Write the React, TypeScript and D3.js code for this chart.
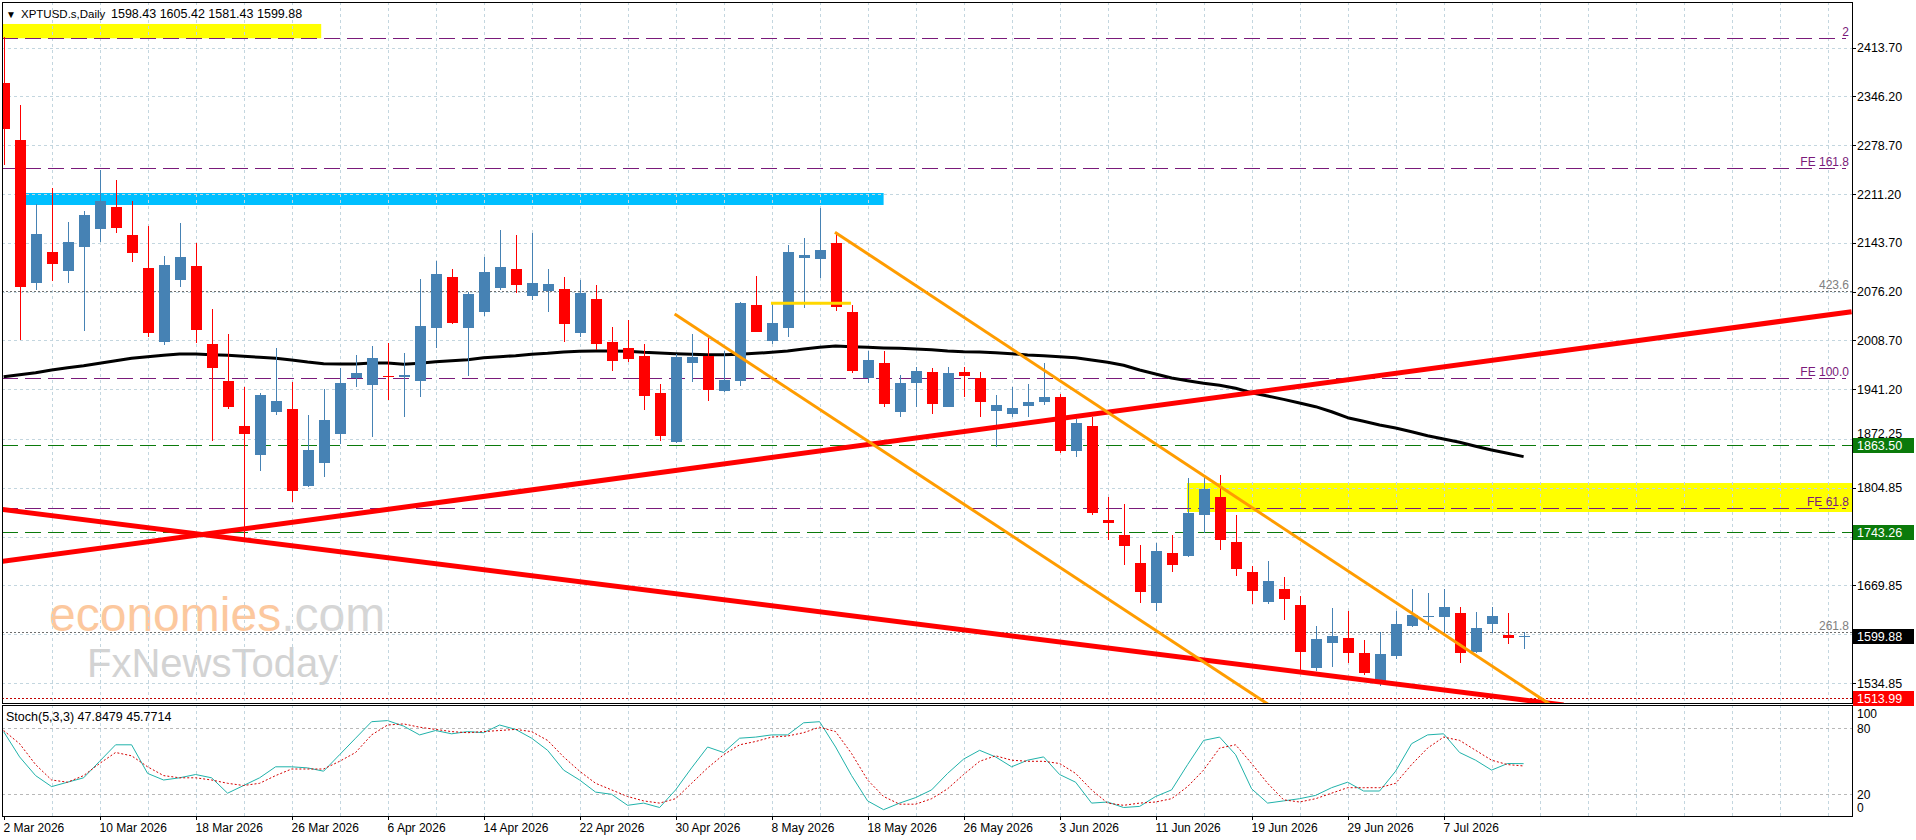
import React, { useEffect, useRef } from 'react';
import * as d3 from 'd3';

// Daily XPTUSD bars, bar 0 = 2 Mar 2026 (one bar per trading day)
const opens = [
  2364.9, 2286.0, 2087.8, 2130.7, 2105.2, 2137.6, 2163.3, 2193.8, 2154.6, 2108.5,
  2007.0, 2092.4, 2111.7, 2003.8, 1953.1, 1890.4, 1850.3, 1910.1, 1913.9, 1807.4,
  1839.6, 1879.3, 1956.4, 1947.1, 1960.0, 1957.7, 1953.1, 2025.5, 2096.1, 2025.5,
  2048.5, 2080.9, 2107.2, 2070.2, 2077.6, 2079.5, 2018.6, 2065.7, 2006.2, 1997.9,
  1987.2, 1935.6, 1868.7, 1977.9, 1987.2, 1939.2, 1953.1, 2057.8, 2008.4, 2026.4,
  2122.4, 2121.4, 2143.9, 2048.5, 1956.4, 1977.9, 1910.1, 1949.4, 1964.7, 1917.1,
  1964.7, 1956.4, 1911.6, 1906.6, 1918.5, 1923.2, 1930.1, 1856.2, 1890.4, 1760.4,
  1739.6, 1700.4, 1645.9, 1714.3, 1710.6, 1767.3, 1791.8, 1730.4, 1688.0, 1647.3,
  1664.9, 1642.8, 1555.2, 1589.8, 1596.7, 1575.9, 1536.7, 1572.7, 1614.1, 1625.8,
  1626.6, 1631.3, 1578.2, 1616.0, 1601.8, 1598.43,
];
const highs = [
  2428.5, 2334.4, 2197.2, 2219.2, 2173.0, 2188.2, 2244.5, 2230.7, 2202.1, 2167.1,
  2125.6, 2171.6, 2143.1, 2052.2, 2017.7, 1944.8, 1936.0, 1997.9, 1951.7, 1905.6,
  1941.2, 1970.2, 1988.6, 2001.0, 2005.0, 1991.8, 2093.3, 2119.0, 2107.2, 2075.7,
  2124.2, 2161.5, 2154.6, 2157.0, 2107.2, 2096.9, 2092.4, 2085.4, 2026.9, 2037.0,
  2003.8, 1948.5, 1990.0, 2017.2, 2011.7, 1994.6, 2062.0, 2097.9, 2062.3, 2140.8,
  2150.5, 2191.5, 2158.5, 2057.8, 1994.6, 1994.6, 1960.9, 1971.6, 1970.2, 1972.4,
  1971.6, 1965.5, 1933.3, 1944.8, 1948.5, 1977.1, 1934.7, 1899.7, 1903.3, 1791.8,
  1782.5, 1725.8, 1729.0, 1739.6, 1818.0, 1819.9, 1822.6, 1767.3, 1696.7, 1704.1,
  1681.9, 1655.2, 1613.7, 1638.2, 1634.5, 1594.4, 1605.0, 1635.0, 1664.9, 1659.0,
  1664.5, 1640.4, 1632.7, 1639.6, 1631.3, 1605.42,
];
const lows = [
  2251.0, 2009.4, 2078.5, 2091.4, 2088.6, 2022.2, 2145.0, 2156.9, 2117.7, 2013.9,
  2002.5, 2082.0, 2005.6, 1870.0, 1914.3, 1735.0, 1828.6, 1905.3, 1785.7, 1805.6,
  1819.4, 1865.5, 1943.9, 1875.6, 1927.0, 1903.3, 1930.1, 1997.9, 2032.0, 1959.5,
  2042.5, 2078.5, 2073.9, 2064.7, 2048.5, 2007.0, 2013.9, 1995.5, 1966.9, 1979.3,
  1912.5, 1870.0, 1866.9, 1951.7, 1925.4, 1937.8, 1946.1, 2020.0, 2003.8, 2013.9,
  2053.2, 2094.7, 2049.9, 1963.3, 1949.4, 1917.1, 1903.3, 1916.2, 1907.0, 1916.6,
  1930.9, 1902.4, 1861.8, 1902.4, 1903.3, 1919.4, 1852.6, 1847.1, 1767.3, 1732.7,
  1698.1, 1645.1, 1634.9, 1688.9, 1709.0, 1742.2, 1718.9, 1683.0, 1644.1, 1644.1,
  1622.0, 1549.1, 1551.9, 1556.6, 1562.1, 1545.9, 1530.8, 1567.7, 1612.0, 1608.2,
  1599.9, 1562.1, 1577.0, 1603.7, 1588.4, 1581.43,
];
const closes = [
  2301.2, 2083.1, 2156.0, 2114.5, 2145.4, 2182.3, 2202.1, 2164.7, 2130.1, 2019.5,
  2113.1, 2124.6, 2023.2, 1971.0, 1917.1, 1878.9, 1933.3, 1924.9, 1800.9, 1857.2,
  1898.7, 1949.5, 1964.1, 1984.0, 1958.5, 1960.9, 2028.7, 2100.7, 2032.5, 2072.9,
  2103.0, 2109.9, 2085.4, 2087.8, 2086.8, 2031.5, 2073.9, 2003.8, 1980.7, 1983.1,
  1932.3, 1877.0, 1986.3, 1986.3, 1940.2, 1954.0, 2060.9, 2020.8, 2032.5, 2131.5,
  2126.9, 2133.8, 2055.4, 1966.9, 1981.7, 1920.8, 1950.3, 1966.9, 1920.4, 1963.3,
  1960.0, 1924.0, 1919.4, 1914.9, 1924.0, 1930.9, 1856.2, 1894.1, 1770.5, 1756.2,
  1724.8, 1661.2, 1717.5, 1698.1, 1770.5, 1803.2, 1732.7, 1692.3, 1662.6, 1675.9,
  1650.7, 1578.2, 1595.3, 1599.9, 1575.9, 1548.3, 1575.0, 1616.6, 1628.9, 1627.6,
  1640.4, 1576.9, 1611.4, 1627.5, 1597.2, 1599.88,
];

// moving average (black line)
const maValues = [
  1958.6, 1961.4, 1964.1, 1967.9, 1971.0, 1973.8, 1977.1, 1980.7, 1984.0, 1986.3,
  1988.2, 1990.0, 1990.0, 1989.0, 1988.2, 1986.8, 1985.4, 1984.0, 1981.7, 1978.9,
  1976.6, 1976.2, 1976.2, 1977.5, 1977.5, 1975.7, 1977.1, 1979.4, 1980.7, 1982.1,
  1984.9, 1986.3, 1987.7, 1989.6, 1990.9, 1992.8, 1993.7, 1994.1, 1994.1, 1993.7,
  1992.3, 1991.4, 1990.4, 1989.6, 1989.0, 1989.0, 1989.6, 1990.9, 1992.3, 1994.1,
  1996.9, 1999.2, 2001.0, 2000.1, 1999.2, 1998.3, 1997.8, 1996.9, 1995.9, 1994.1,
  1993.2, 1992.8, 1991.8, 1990.4, 1988.6, 1987.7, 1986.3, 1984.9, 1981.7, 1978.5,
  1974.4, 1967.9, 1962.3, 1956.8, 1953.1, 1949.5, 1946.7, 1942.6, 1936.5, 1931.9,
  1927.2, 1922.2, 1917.1, 1910.1, 1901.9, 1896.9, 1891.8, 1887.6, 1882.5, 1877.0,
  1872.4, 1867.8, 1862.3, 1857.2, 1852.6, 1848.0,
];

// Stoch(5,3,3)
const stochMain = [
  77, 54, 37, 27, 31, 35, 50, 65, 65, 39,
  33, 35, 38, 35, 21, 28, 35, 45, 45, 44,
  41, 56, 71, 86, 87, 82, 74, 78, 75, 77,
  76, 83, 79, 71, 60, 42, 33, 22, 20, 10,
  12, 8, 24, 44, 63, 58, 71, 72, 74, 74,
  85, 86, 63, 37, 14, 6, 12, 17, 24, 39,
  52, 60, 54, 45, 51, 54, 38, 31, 12, 13,
  8, 9, 18, 24, 47, 69, 72, 56, 25, 12,
  14, 16, 19, 26, 31, 23, 23, 41, 66, 74,
  75, 58, 51, 42, 48, 47.85,
];
const stochSignal = [
  78, 66, 47, 33, 31, 37, 48, 58, 55, 45,
  37, 35, 35, 33, 30, 28, 30, 37, 43, 43,
  43, 50, 58, 74, 83, 84, 81, 79, 77, 76,
  77, 78, 79, 77, 69, 54, 41, 30, 24, 18,
  14, 12, 16, 30, 44, 56, 65, 68, 72, 73,
  76, 81, 77, 57, 33, 18, 11, 11, 16, 25,
  38, 50, 55, 51, 50, 50, 48, 39, 24, 12,
  10, 12, 13, 16, 27, 42, 62, 65, 48, 30,
  15, 13, 16, 21, 26, 26, 26, 30, 47, 62,
  72, 69, 60, 51, 47, 45.77,
];

const priceTicks = [
  '2413.70', '2346.20', '2278.70', '2211.20', '2143.70', '2076.20', '2008.70',
  '1941.20', '1872.25', '1804.85', '1737.35', '1669.85', '1602.35', '1534.85',
];
const stochTicks = [100, 80, 20, 0];
const stochLevels = [80, 20];
const dateLabelBars = [0, 6, 12, 18, 24, 30, 36, 42, 48, 54, 60, 66, 72, 78, 84, 90];
const dateLabels = [
  '2 Mar 2026', '10 Mar 2026', '18 Mar 2026', '26 Mar 2026', '6 Apr 2026', '14 Apr 2026',
  '22 Apr 2026', '30 Apr 2026', '8 May 2026', '18 May 2026', '26 May 2026', '3 Jun 2026',
  '11 Jun 2026', '19 Jun 2026', '29 Jun 2026', '7 Jul 2026',
];

// drawn objects (bar index, price)
const fiboPrices = [2426.7, 2246.9, 1956.8, 1776.5];
const fiboLabels = ['2', 'FE 161.8', 'FE 100.0', 'FE 61.8'];
const expansionPrices = [2077.6, 1605.0];
const expansionLabels = ['423.6', '261.8'];
const supportPrices = [1863.5, 1743.26];
const lowLevel = 1513.99;
const lastPrice = 1599.88;
const yellowZones = [
  [-0.2, 19.85, 2446.5, 2426.7],
  [73.96, 116, 1811.5, 1771.4],
];
const blueZone = [1.35, 55, 2212.7, 2196.1];
const redTrendlines = [
  [[-0.2, 1702.7], [115.5, 2048.5]],
  [[-0.2, 1775.2], [97.5, 1504.5]],
];
const orangeTrendlines = [
  [[51.96, 2158.5], [96.6, 1506.0]],
  [[41.94, 2045.3], [79.2, 1503.0]],
];
const goldSegment = [[47.96, 2060.1], [52.96, 2060.1]];

const App = () => {
  const svgRef = useRef<SVGSVGElement | null>(null);

  useEffect(() => {
    const svg = d3.select(svgRef.current);
    svg.selectAll('*').remove();

    const font = "'Liberation Sans', Arial, sans-serif";
    const left = 2, right = 1852;
    const mainTop = 2, mainBottom = 703;
    const stochTop = 705, stochBottom = 816;
    const bull = '#4682b4', bear = '#ff0000';
    const gridColor = '#c3d6df';

    const x = d3.scaleLinear().domain([0, 95]).range([3.6, 1523.6]);
    const y = d3.scaleLinear().domain([1507.2, 2476.9]).range([mainBottom, mainTop]);
    const ys = d3.scaleLinear().domain([0, 100]).range([816.3, 706.3]);
    const px = (v: number) => Math.round(v) + 0.5;

    svg.append('rect').attr('width', 1916).attr('height', 840).attr('fill', '#fff');

    const defs = svg.append('defs');
    defs.append('clipPath').attr('id', 'main-clip').append('rect')
      .attr('x', left + 1).attr('y', mainTop + 1)
      .attr('width', right - left - 1).attr('height', mainBottom - mainTop - 1);
    defs.append('clipPath').attr('id', 'stoch-clip').append('rect')
      .attr('x', left + 1).attr('y', stochTop + 1)
      .attr('width', right - left - 1).attr('height', stochBottom - stochTop - 1);

    const main = svg.append('g').attr('clip-path', 'url(#main-clip)');
    const sub = svg.append('g').attr('clip-path', 'url(#stoch-clip)');

    // watermark
    const wm = main.append('text').attr('x', 49).attr('y', 631)
      .attr('font-family', font).attr('font-size', 48);
    wm.append('tspan').attr('fill', '#fcc89e').text('economies');
    wm.append('tspan').attr('fill', '#d6d6d6').text('.com');
    main.append('text').attr('x', 87).attr('y', 677)
      .attr('font-family', font).attr('font-size', 40).attr('fill', '#d3d3d3')
      .text('FxNewsToday');

    // zones
    yellowZones.forEach(([b0, b1, p0, p1]) => {
      main.append('rect')
        .attr('x', x(b0)).attr('y', y(p0))
        .attr('width', x(b1) - x(b0)).attr('height', y(p1) - y(p0))
        .attr('fill', '#ffff00');
    });
    main.append('rect')
      .attr('x', x(blueZone[0])).attr('y', y(blueZone[2]))
      .attr('width', x(blueZone[1]) - x(blueZone[0]))
      .attr('height', y(blueZone[3]) - y(blueZone[2]))
      .attr('fill', '#00bfff');

    // grid
    const gridBars = d3.range(3, 115, 3);
    main.selectAll('.vgrid').data(gridBars).enter().append('line')
      .attr('x1', (d) => px(x(d))).attr('x2', (d) => px(x(d)))
      .attr('y1', mainTop).attr('y2', mainBottom)
      .attr('stroke', gridColor).attr('stroke-dasharray', '3,3')
      .attr('shape-rendering', 'crispEdges');
    main.selectAll('.hgrid').data(priceTicks).enter().append('line')
      .attr('x1', left).attr('x2', right)
      .attr('y1', (d) => px(y(+d))).attr('y2', (d) => px(y(+d)))
      .attr('stroke', gridColor).attr('stroke-dasharray', '3,3')
      .attr('shape-rendering', 'crispEdges');
    sub.selectAll('.vgrid').data(gridBars).enter().append('line')
      .attr('x1', (d) => px(x(d))).attr('x2', (d) => px(x(d)))
      .attr('y1', stochTop).attr('y2', stochBottom)
      .attr('stroke', gridColor).attr('stroke-dasharray', '3,3')
      .attr('shape-rendering', 'crispEdges');
    sub.selectAll('.lvl').data(stochLevels).enter().append('line')
      .attr('x1', left).attr('x2', right)
      .attr('y1', (d) => px(ys(d))).attr('y2', (d) => px(ys(d)))
      .attr('stroke', '#b8b8b8').attr('stroke-dasharray', '3,3')
      .attr('shape-rendering', 'crispEdges');

    // horizontal levels
    const hline = (price: number, color: string, dash: string, x2 = right) =>
      main.append('line')
        .attr('x1', left).attr('x2', x2)
        .attr('y1', px(y(price))).attr('y2', px(y(price)))
        .attr('stroke', color).attr('stroke-dasharray', dash)
        .attr('shape-rendering', 'crispEdges');
    fiboPrices.forEach((p) => hline(p, '#7a1a7a', '16,7', 1846));
    supportPrices.forEach((p) => hline(p, '#0b7a0b', '16,7'));
    expansionPrices.forEach((p) => hline(p, '#6e6e6e', '2,2'));
    hline(lowLevel, '#c00000', '2,2');

    // moving average
    const line = d3.line<number>().x((_, i) => x(i)).y((d) => y(d));
    main.append('path').datum(maValues)
      .attr('d', line).attr('fill', 'none')
      .attr('stroke', '#000').attr('stroke-width', 3)
      .attr('stroke-linejoin', 'round');

    // candles
    const bars = opens.map((o, i) => ({ i, o, h: highs[i], l: lows[i], c: closes[i] }));
    const candle = main.append('g').selectAll('g').data(bars).enter().append('g');
    candle.append('line')
      .attr('x1', (d) => px(x(d.i))).attr('x2', (d) => px(x(d.i)))
      .attr('y1', (d) => Math.round(y(d.h))).attr('y2', (d) => Math.round(y(d.l)))
      .attr('stroke', (d) => (d.c >= d.o ? bull : bear))
      .attr('shape-rendering', 'crispEdges');
    candle.append('rect')
      .attr('x', (d) => Math.round(x(d.i)) - 5)
      .attr('width', 11)
      .attr('y', (d) => Math.round(y(Math.max(d.o, d.c))))
      .attr('height', (d) => Math.max(1, Math.round(y(Math.min(d.o, d.c))) - Math.round(y(Math.max(d.o, d.c)))))
      .attr('fill', (d) => (d.c >= d.o ? bull : bear))
      .attr('shape-rendering', 'crispEdges');

    // trend lines
    const seg = d3.line<number[]>().x((d) => x(d[0])).y((d) => y(d[1]));
    redTrendlines.forEach((pts) => {
      main.append('path').attr('d', seg(pts)).attr('fill', 'none')
        .attr('stroke', '#ff0000').attr('stroke-width', 5);
    });
    orangeTrendlines.forEach((pts) => {
      main.append('path').attr('d', seg(pts)).attr('fill', 'none')
        .attr('stroke', '#ff9c00').attr('stroke-width', 3);
    });
    main.append('path').attr('d', seg(goldSegment)).attr('fill', 'none')
      .attr('stroke', '#ffd700').attr('stroke-width', 3);

    // level labels
    fiboPrices.forEach((p, k) => {
      main.append('text').attr('x', 1849).attr('y', y(p) - 2)
        .attr('text-anchor', 'end').attr('font-family', font).attr('font-size', 12)
        .attr('fill', '#7a1a7a').text(fiboLabels[k]);
    });
    expansionPrices.forEach((p, k) => {
      main.append('text').attr('x', 1849).attr('y', y(p) - 2)
        .attr('text-anchor', 'end').attr('font-family', font).attr('font-size', 12)
        .attr('fill', '#808080').text(expansionLabels[k]);
    });

    // stochastic
    const sline = d3.line<number>().x((_, i) => x(i)).y((d) => ys(d));
    sub.append('path').datum(stochMain).attr('d', sline).attr('fill', 'none')
      .attr('stroke', '#20b2aa').attr('stroke-width', 1);
    sub.append('path').datum(stochSignal).attr('d', sline).attr('fill', 'none')
      .attr('stroke', '#d40000').attr('stroke-width', 1).attr('stroke-dasharray', '2,2');

    // frames
    const frame = (x0: number, y0: number, x1: number, y1: number) =>
      svg.append('rect').attr('x', x0 + 0.5).attr('y', y0 + 0.5)
        .attr('width', x1 - x0).attr('height', y1 - y0)
        .attr('fill', 'none').attr('stroke', '#000').attr('shape-rendering', 'crispEdges');
    frame(left, mainTop, right, mainBottom);
    frame(left, stochTop, right, stochBottom);

    // price axis; labels covered by a price tag are pushed above it or left out
    const tagPrices = [...supportPrices, lastPrice, lowLevel];
    priceTicks.forEach((t) => {
      const ty = y(+t);
      const yy = px(ty);
      svg.append('line').attr('x1', right).attr('x2', right + 4).attr('y1', yy).attr('y2', yy)
        .attr('stroke', '#000').attr('shape-rendering', 'crispEdges');
      const near = tagPrices.map((p) => Math.round(y(p))).find((tyy) => Math.abs(tyy - ty) < 14);
      let base = ty + 4.5;
      if (near !== undefined) {
        if (ty < near - 5) base = near - 7;
        else return;
      }
      svg.append('text').attr('x', 1857).attr('y', base)
        .attr('font-family', font).attr('font-size', 12.5).attr('fill', '#000').text(t);
    });
    const tag = (price: number, color: string) => {
      const yy = Math.round(y(price));
      svg.append('rect').attr('x', 1853).attr('y', yy - 7).attr('width', 61).attr('height', 15)
        .attr('fill', color);
      svg.append('text').attr('x', 1857).attr('y', yy + 4.5)
        .attr('font-family', font).attr('font-size', 12.5).attr('fill', '#fff')
        .text(price.toFixed(2));
    };
    supportPrices.forEach((p) => tag(p, '#0b7a0b'));
    tag(lastPrice, '#000');
    tag(lowLevel, '#ff0000');

    // stochastic axis
    stochTicks.forEach((v) => {
      const yy = v === 100 ? 718 : v === 0 ? 812 : ys(v) + 4.5;
      svg.append('text').attr('x', 1857).attr('y', yy)
        .attr('font-family', font).attr('font-size', 12).attr('fill', '#000').text(String(v));
    });

    // date axis
    dateLabelBars.forEach((b, k) => {
      svg.append('line').attr('x1', px(x(b))).attr('x2', px(x(b)))
        .attr('y1', stochBottom).attr('y2', stochBottom + 4)
        .attr('stroke', '#000').attr('shape-rendering', 'crispEdges');
      svg.append('text').attr('x', x(b)).attr('y', 832)
        .attr('font-family', font).attr('font-size', 12).attr('fill', '#000')
        .text(dateLabels[k]);
    });

    // headers
    svg.append('text').attr('x', 6).attr('y', 18)
      .attr('font-family', font).attr('font-size', 10).text('\u25BC');
    svg.append('text').attr('x', 21).attr('y', 18)
      .attr('font-family', font).attr('font-size', 11.5).text('XPTUSD.s,Daily');
    svg.append('text').attr('x', 111).attr('y', 18)
      .attr('font-family', font).attr('font-size', 12.5).text('1598.43 1605.42 1581.43 1599.88');
    svg.append('text').attr('x', 6).attr('y', 721)
      .attr('font-family', font).attr('font-size', 12.5).text('Stoch(5,3,3) 47.8479 45.7714');
  }, []);

  return (
    <svg
      ref={svgRef}
      width={1916}
      height={840}
      style={{ position: 'absolute', left: 0, top: 0, display: 'block' }}
    />
  );
};

export default App;
